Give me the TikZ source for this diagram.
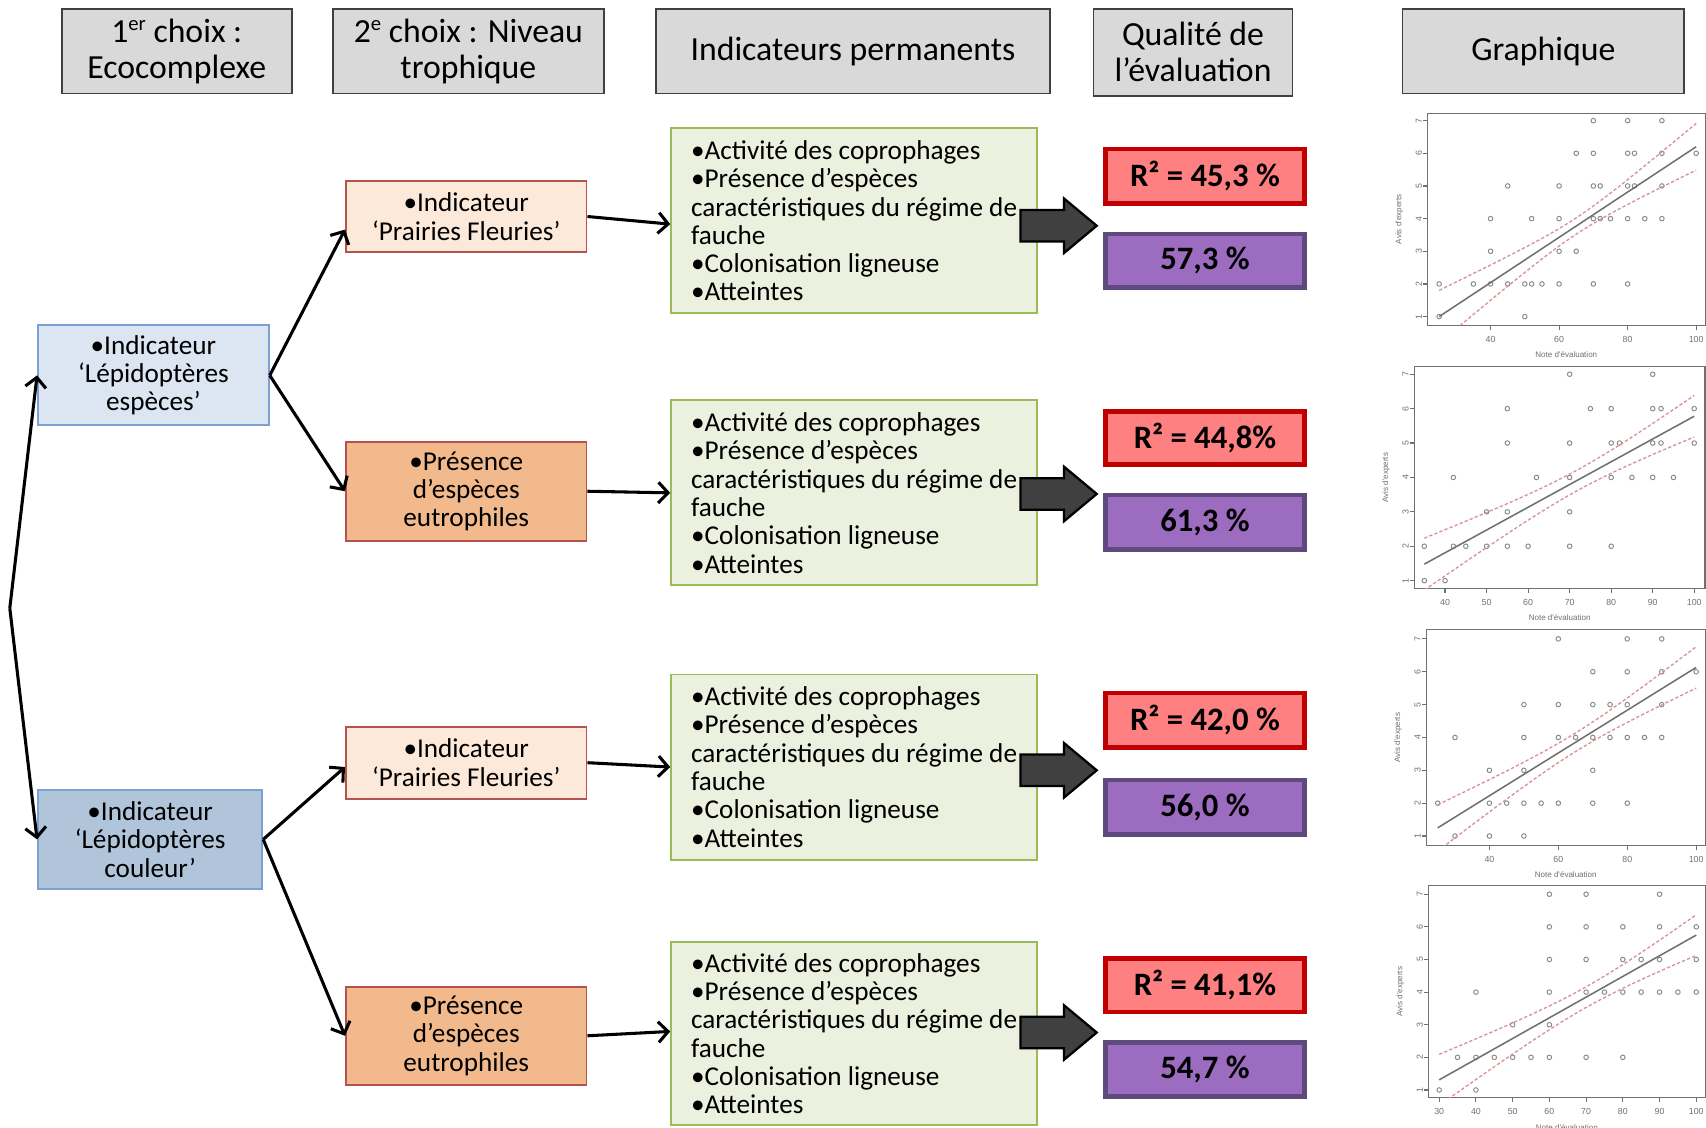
\documentclass[tikz,border=0pt]{standalone}
\usepackage{fontspec}
\setmainfont{Carlito}
\newfontfamily\gfont{Liberation Sans}
\usetikzlibrary{arrows.meta,calc}
\definecolor{hdrfill}{HTML}{D9D9D9}
\definecolor{hdrline}{HTML}{404040}
\definecolor{lepline}{HTML}{7BA0D4}
\definecolor{lepafill}{HTML}{DCE6F2}
\definecolor{lepbfill}{HTML}{B0C4DA}
\definecolor{prline}{HTML}{B4524E}
\definecolor{prafill}{HTML}{FDE9D9}
\definecolor{prbfill}{HTML}{F2BA8C}
\definecolor{grnline}{HTML}{9BBB59}
\definecolor{grnfill}{HTML}{EBF1DE}
\definecolor{rline}{HTML}{C00000}
\definecolor{rfill}{HTML}{FF8080}
\definecolor{pline}{HTML}{5E4A7D}
\definecolor{pfill}{HTML}{9B6CBF}
\definecolor{barrow}{HTML}{404040}
\definecolor{gaxis}{HTML}{707070}
\definecolor{gpoint}{HTML}{8A8A8A}
\definecolor{gfit}{HTML}{707070}
\definecolor{gband}{HTML}{D89494}
\newcommand\supr[1]{\raisebox{3pt}{\fontsize{5.4}{6}\selectfont #1}}
\newcommand\gaxes[5]{%
  \pgfmathsetmacro\gmidx{(#1+#2)/2}%
  \pgfmathsetmacro\gmidy{(#3+#4)/2}%
  \draw[gframe] (#1,#3) rectangle (#2,#4);
  \foreach \tk in {1,...,7} {\draw[gframe] (#1,\tk) -- ++(-0.04cm,0);
    \node[gtick,rotate=90,anchor=south] at ([xshift=-0.045cm]#1,\tk) {\tk};}
  \foreach \tk in {#5} {\draw[gframe] (\tk,#3) -- ++(0,-0.04cm);
    \node[gtick,anchor=north] at ([yshift=-0.09cm]\tk,#3) {\tk};}
  \node[gtitle] at ([yshift=-0.27cm]\gmidx,#3) {Note d'évaluation};
  \node[gtitle,rotate=90] at ([xshift=-0.26cm]#1,\gmidy) {Avis d'experts};
}
\newcommand\gpoints[1]{%
  \foreach \yy/\xs in {#1} {\foreach \xx in \xs {\draw[gpt] (\xx,\yy) circle[radius=0.021cm];}}}
\newcommand\gfitlines[9]{%
  \begin{scope}
    \clip (#1,#3) rectangle (#2,#4);
    \draw[gline] (\gxa,{#5+#7*(\gxa-#6)}) -- (100,{#5+#7*(100-#6)});
    \draw[gbandst] plot[domain=\gxa:100,samples=40,smooth] (\x,{#5+#7*(\x-#6)+sqrt(#8+#9*(\x-\gm)^2)});
    \draw[gbandst] plot[domain=\gxa:100,samples=40,smooth] (\x,{#5+#7*(\x-#6)-sqrt(#8+#9*(\x-\gm)^2)});
  \end{scope}}
\begin{document}
\begin{tikzpicture}[x=0.01cm,y=-0.01cm,
  hdr/.style={draw=hdrline,fill=hdrfill,line width=0.45pt,align=center,inner sep=0pt,
    font=\fontsize{8.82}{9.39}\selectfont},
  bx/.style={line width=0.5pt,align=center,inner sep=0pt,font=\fontsize{7.11}{7.4}\selectfont},
  lepa/.style={bx,draw=lepline,fill=lepafill},
  lepb/.style={bx,draw=lepline,fill=lepbfill},
  pra/.style={bx,draw=prline,fill=prafill},
  prb/.style={bx,draw=prline,fill=prbfill},
  grn/.style={bx,draw=grnline,fill=grnfill,align=left,minimum width=3.36cm},
  rbx/.style={draw=rline,fill=rfill,line width=1.2pt,inner sep=0pt,minimum width=1.83cm,
    font=\bfseries\fontsize{8.54}{9}\selectfont},
  pbx/.style={draw=pline,fill=pfill,line width=1.2pt,inner sep=0pt,minimum width=1.83cm,
    font=\bfseries\fontsize{8.54}{9}\selectfont},
  conn/.style={line width=0.8pt,-{Straight Barb[length=0.9mm,width=1.9mm]}},
  blk/.style={draw=black,fill=barrow,line width=0.6pt,line join=miter},
  gframe/.style={draw=gaxis,line width=0.3pt},
  gtick/.style={text=gaxis,inner sep=0pt,font=\gfont\fontsize{2.3}{2.7}\selectfont},
  gtitle/.style={text=gaxis,inner sep=0pt,font=\gfont\fontsize{2.1}{2.5}\selectfont},
  gpt/.style={draw=gpoint,line width=0.25pt},
  gline/.style={draw=gfit,line width=0.4pt},
  gbandst/.style={draw=gband,line width=0.35pt,dash pattern=on 0.03cm off 0.02cm}
]
\useasboundingbox (0,0) rectangle (1568,1036);
\fill[white] (0,0) rectangle (1568,1036);

% headers
\node[hdr,minimum width=2.11cm,minimum height=0.78cm] (h1) at (162.5,47) {1\supr{er} choix :\\Ecocomplexe};
\node[hdr,minimum width=2.49cm,minimum height=0.78cm] (h2) at (430.5,47) {2\supr{e} choix : Niveau\\trophique};
\node[hdr,minimum width=3.62cm,minimum height=0.78cm] (h3) at (784,47) {Indicateurs permanents};
\node[hdr,minimum width=1.83cm,minimum height=0.80cm] (h4) at (1096.5,48) {Qualité de\\l’évaluation};
\node[hdr,minimum width=2.59cm,minimum height=0.78cm] (h5) at (1418.5,47) {Graphique};

% first choice
\node[lepa,minimum width=2.12cm,minimum height=0.92cm] (a1) at (141,345) {•Indicateur\\‘Lépidoptères\\espèces’};
\node[lepb,minimum width=2.06cm,minimum height=0.91cm] (a2) at (138,771.5) {•Indicateur\\‘Lépidoptères\\couleur’};

% second choice
\node[pra,minimum width=2.21cm,minimum height=0.66cm] (b1) at (428.5,199) {•Indicateur\\‘Prairies Fleuries’};
\node[prb,minimum width=2.21cm,minimum height=0.91cm] (b2) at (428.5,451.5) {•Présence\\d’espèces\\eutrophiles};
\node[pra,minimum width=2.21cm,minimum height=0.66cm] (b3) at (428.5,701) {•Indicateur\\‘Prairies Fleuries’};
\node[prb,minimum width=2.21cm,minimum height=0.90cm] (b4) at (428.5,952) {•Présence\\d’espèces\\eutrophiles};

% permanent indicators
\foreach \n/\yc/\hh in {c1/203/1.70,c2/453/1.70,c3/705/1.70,c4/950/1.68}{
  \node[grn,minimum height=\hh cm] (\n) at (785,\yc) {•Activité des coprophages\\•Présence d’espèces\\caractéristiques du régime de\\fauche\\•Colonisation ligneuse\\•Atteintes};
}

% quality
\node[rbx,minimum height=0.50cm] (r1) at (1107.5,162) {R² = 45,3 \%};
\node[pbx,minimum height=0.49cm] (p1) at (1107.5,239.5) {57,3 \%};
\node[rbx,minimum height=0.49cm] (r2) at (1107.5,402.5) {R² = 44,8\%};
\node[pbx,minimum height=0.50cm] (p2) at (1107.5,480) {61,3 \%};
\node[rbx,minimum height=0.50cm] (r3) at (1107.5,662) {R² = 42,0 \%};
\node[pbx,minimum height=0.50cm] (p3) at (1107.5,742) {56,0 \%};
\node[rbx,minimum height=0.49cm] (r4) at (1107.5,905.5) {R² = 41,1\%};
\node[pbx,minimum height=0.50cm] (p4) at (1107.5,983) {54,7 \%};

% connectors
\coordinate (v) at (9,559);
\draw[conn] (v) -- (a1.west);
\draw[conn] (v) -- (a2.west);
\draw[conn] (a1.east) -- ([yshift=-0.12cm]b1.west);
\draw[conn] (a1.east) -- (b2.west);
\draw[conn] (a2.east) -- ([yshift=-0.04cm]b3.west);
\draw[conn] (a2.east) -- (b4.west);
\draw[conn] (b1.east) -- ([yshift=-0.03cm]c1.west);
\draw[conn] (b2.east) -- (c2.west);
\draw[conn] (b3.east) -- (c3.west);
\draw[conn] (b4.east) -- ([yshift=0.02cm]c4.west);

% block arrows
\foreach \cy in {207.5,454,708,949}{
  \draw[blk] (938,\cy-14.5) -- (978,\cy-14.5) -- (978,\cy-25) -- (1008,\cy) -- (978,\cy+25) -- (978,\cy+14.5) -- (938,\cy+14.5) -- cycle;
}

% graph 1
\begin{scope}[shift={(1244,321)},x={(0.03148cm,0cm)},y={(0cm,0.30cm)}]
  \gaxes{21.6}{102.6}{0.73}{7.23}{40,60,80,100}
  \gpoints{7/{70,80,90},6/{65,70,80,82,90,100},5/{45,60,70,72,80,82,90},4/{40,52,60,70,72,75,80,85,90},3/{40,60,65},2/{25,35,40,45,50,52,55,60,70,80},1/{25,50}}
  \def\gxa{25}\def\gm{65}
  \gfitlines{21.6}{102.6}{0.73}{7.23}{1.0}{25}{0.06933}{0.0625}{0.00036}
\end{scope}

% graph 2
\begin{scope}[shift={(1175.5,565.3)},x={(0.03815cm,0cm)},y={(0cm,0.316cm)}]
  \gaxes{32.6}{102.6}{0.77}{7.22}{40,50,60,70,80,90,100}
  \gpoints{7/{70,90},6/{55,75,80,90,92,100},5/{55,70,80,82,90,92,100},4/{42,62,70,80,85,90,95},3/{50,55,70},2/{35,42,45,50,55,60,70,80},1/{35,40}}
  \def\gxa{35}\def\gm{72}
  \gfitlines{32.6}{102.6}{0.77}{7.22}{1.48}{35}{0.06615}{0.09}{0.000345}
\end{scope}

% graph 3
\begin{scope}[shift={(1242.3,798.6)},x={(0.03165cm,0cm)},y={(0cm,0.3018cm)}]
  \gaxes{21.7}{102.6}{0.715}{7.28}{40,60,80,100}
  \gpoints{7/{60,80,90},6/{70,80,90,100},5/{50,60,70,75,80,90},4/{30,50,60,65,70,75,80,85,90},3/{40,50,70},2/{25,40,45,50,55,60,70,80},1/{30,40,50}}
  \def\gxa{25}\def\gm{65}
  \gfitlines{21.7}{102.6}{0.715}{7.28}{1.25}{25}{0.0651}{0.08}{0.000256}
\end{scope}

% graph 4
\begin{scope}[shift={(1221.5,1031.8)},x={(0.03373cm,0cm)},y={(0cm,0.2997cm)}]
  \gaxes{27.1}{102.4}{0.76}{7.27}{30,40,50,60,70,80,90,100}
  \gpoints{7/{60,70,90},6/{60,70,80,90,100},5/{60,70,80,85,90,100},4/{40,60,70,75,80,85,90,95,100},3/{50,60},2/{35,40,45,50,55,60,70,80},1/{30,40}}
  \def\gxa{30}\def\gm{70}
  \gfitlines{27.1}{102.4}{0.76}{7.27}{1.31}{30}{0.0634}{0.1}{0.000318}
\end{scope}
\end{tikzpicture}
\end{document}
